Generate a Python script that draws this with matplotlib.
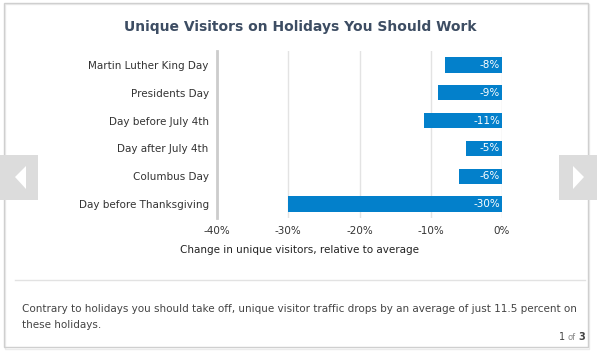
import matplotlib
matplotlib.use("Agg")
import matplotlib.pyplot as plt
from matplotlib.patches import Rectangle, Polygon
from matplotlib.lines import Line2D

categories = ["Martin Luther King Day", "Presidents Day", "Day before July 4th",
              "Day after July 4th", "Columbus Day", "Day before Thanksgiving"]
values = [-8, -9, -11, -5, -6, -30]
xticks = [-40, -30, -20, -10, 0]
xtick_labels = ["-40%", "-30%", "-20%", "-10%", "0%"]
title = "Unique Visitors on Holidays You Should Work"
xlabel = "Change in unique visitors, relative to average"
note = ("Contrary to holidays you should take off, unique visitor traffic drops by an average of just 11.5 percent on\n"
        "these holidays.")

W, H = 600, 352
fig = plt.figure(figsize=(W / 100, H / 100), dpi=100)
fig.patch.set_facecolor("white")

def fx(x): return x / W
def fy(y): return 1 - y / H

# card border + shadow
fig.patches.append(Rectangle((fx(4), fy(347)), fx(588) - fx(4), fy(3) - fy(347),
                             transform=fig.transFigure, facecolor="none",
                             edgecolor="#cfcfcf", linewidth=1.0))
fig.patches.append(Rectangle((fx(5), fy(349)), fx(588) - fx(4), fy(4) - fy(349),
                             transform=fig.transFigure, facecolor="none",
                             edgecolor="#ececec", linewidth=1.0, zorder=-1))

# nav arrows
fig.patches.append(Rectangle((fx(0), fy(200)), fx(38), fy(155) - fy(200),
                             transform=fig.transFigure, facecolor="#dcdcdc", edgecolor="none"))
fig.patches.append(Polygon([(fx(15), fy(177)), (fx(26), fy(166)), (fx(26), fy(189))],
                           transform=fig.transFigure, facecolor="white", edgecolor="none"))
fig.patches.append(Rectangle((fx(559), fy(200)), fx(38), fy(155) - fy(200),
                             transform=fig.transFigure, facecolor="#dcdcdc", edgecolor="none"))
fig.patches.append(Polygon([(fx(584), fy(177)), (fx(573), fy(166)), (fx(573), fy(189))],
                           transform=fig.transFigure, facecolor="white", edgecolor="none"))

ax = fig.add_axes([fx(217), fy(218), fx(502) - fx(217), fy(51) - fy(218)])
ypos = list(range(len(categories)))
ax.barh(ypos, values, height=0.55, color="#0380cb", zorder=3)
ax.set_xlim(-40, 0)
ax.set_ylim(len(categories) - 0.5, -0.5)
ax.set_yticks(ypos)
ax.set_yticklabels(categories, fontsize=7.5, color="#333333")
ax.set_xticks(xticks)
ax.set_xticklabels(xtick_labels, fontsize=7.5, color="#333333")
ax.tick_params(axis="both", length=0, pad=6)
ax.grid(axis="x", color="#e3e3e3", linewidth=1, zorder=0)
for s in ["top", "right", "bottom"]:
    ax.spines[s].set_visible(False)
ax.spines["left"].set_color("#cccccc")
ax.spines["left"].set_linewidth(2)
ax.set_facecolor("none")
for y, v in zip(ypos, values):
    ax.text(-0.25, y, f"{v}%", ha="right", va="center", color="white",
            fontsize=7.5, zorder=4)

fig.text(fx(300), fy(27), title, ha="center", va="center", fontsize=10,
         fontweight="semibold", color="#3d4d63")
fig.text(fx(300), fy(250), xlabel, ha="center", va="center", fontsize=7.5, color="#222222")

fig.add_artist(Line2D([fx(15), fx(585)], [fy(280), fy(280)], transform=fig.transFigure,
                      color="#e2e2e2", linewidth=1))
fig.text(fx(22), fy(317), note, ha="left", va="center", fontsize=7.5, color="#444444",
         linespacing=1.75)
fig.text(fx(565), fy(337), "1", ha="right", va="center", fontsize=7, color="#444444")
fig.text(fx(567), fy(337), "of", ha="left", va="center", fontsize=6, color="#888888")
fig.text(fx(585), fy(337), "3", ha="right", va="center", fontsize=7,
         fontweight="bold", color="#444444")

fig.savefig("out.png", dpi=100)
